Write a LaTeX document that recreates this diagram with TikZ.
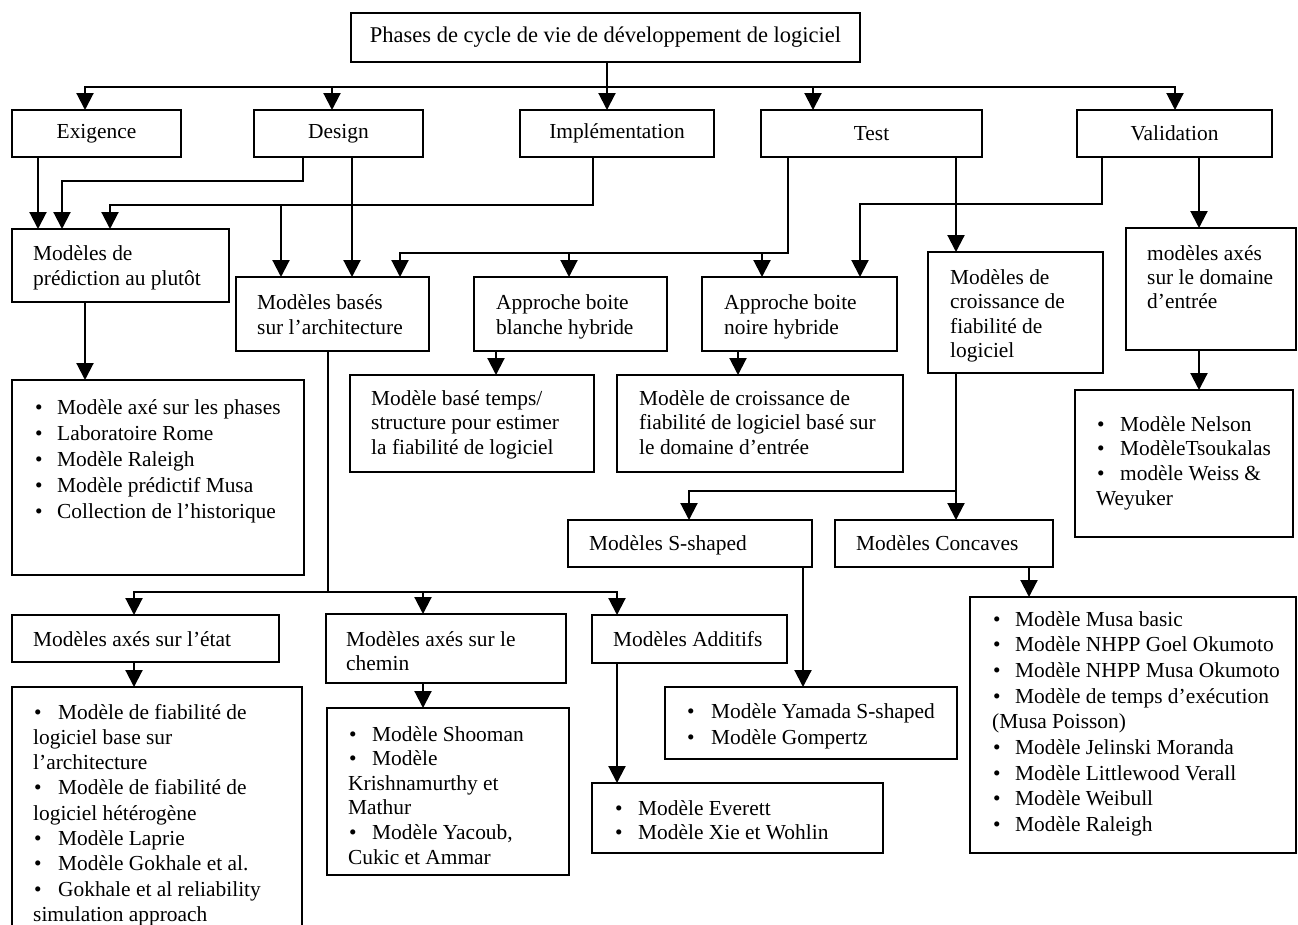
\documentclass[tikz,border=0pt]{standalone}
\usepackage{fontspec}
\setmainfont{Liberation Serif}
\usetikzlibrary{arrows.meta}

% body text size with a chosen line spacing
\newcommand\fsb[1]{\fontsize{21.4pt}{#1pt}\selectfont}
\newcommand\fstitle{\fontsize{22.5pt}{27pt}\selectfont}
% left-aligned stack of lines whose baseline is the first line
\newcommand\stack[1]{\begin{tabular}[t]{@{}l@{}}#1\end{tabular}}
% bullet followed by a fixed gap
\newcommand\bl[1]{\makebox[#1pt][l]{\hspace{1pt}\textbullet}}
% named rectangle from its top-left and bottom-right corners
\newcommand\mkbox[5]{\node[box, minimum width={(#4-#2)*1pt}, minimum height={(#5-#3)*1pt}] (#1) at (#2,#3) {};}

\tikzset{
  box/.style={draw, line width=2.9pt, anchor=north west, inner sep=0pt, outer sep=0pt},
  txt/.style={anchor=base west, inner sep=0pt},
  ctxt/.style={anchor=center, inner sep=0pt, font=\fsb{25}},
  arr/.style={line width=2.1pt, -{Triangle[width=17pt,length=17pt]}},
}

\begin{document}
\begin{tikzpicture}[x=1pt, y=-1pt]
\useasboundingbox (0,0) rectangle (1298,924);
\fill[white] (0,0) rectangle (1298,924);
\clip (0,0) rectangle (1298,924);

% ---------- boxes ----------
\mkbox{title}{351}{13}{860}{62}
\mkbox{exig}{12}{110}{181}{157}
\mkbox{design}{254}{110}{423}{157}
\mkbox{impl}{520}{110}{714}{157}
\mkbox{test}{761}{110}{982}{157}
\mkbox{valid}{1077}{110}{1272}{157}
\mkbox{pred}{12}{229}{229}{302}
\mkbox{bases}{236}{277}{429}{351}
\mkbox{blanche}{474}{277}{667}{351}
\mkbox{noire}{702}{277}{897}{351}
\mkbox{croiss}{928}{252}{1103}{373}
\mkbox{domaine}{1126}{228}{1296}{350}
\mkbox{list1}{12}{380}{304}{575}
\mkbox{temps}{350}{375}{594}{472}
\mkbox{noirelist}{617}{375}{903}{472}
\mkbox{nelson}{1075}{390}{1293}{537}
\mkbox{sshaped}{568}{520}{812}{567}
\mkbox{concaves}{835}{520}{1053}{567}
\mkbox{state}{12}{615}{279}{662}
\mkbox{chemin}{326}{614}{566}{683}
\mkbox{additifs}{592}{615}{787}{663}
\mkbox{statelist}{12}{687}{302}{960}
\mkbox{cheminlist}{327}{708}{569}{875}
\mkbox{yamada}{665}{687}{957}{759}
\mkbox{everett}{592}{783}{883}{853}
\mkbox{concavelist}{970}{597}{1296}{853}

% ---------- texts ----------
\node[anchor=center, inner sep=0pt, font=\fstitle] (t-title) at (title.center) {Phases de cycle de vie de développement de logiciel};
\node[ctxt] (t-exig) at (exig.center) {Exigence};
\node[ctxt] (t-design) at (design.center) {Design};
\node[ctxt] (t-impl) at (impl.center) {Implémentation};
\node[ctxt] (t-test) at (test.center) {Test};
\node[ctxt] (t-valid) at (valid.center) {Validation};

\node[txt, font=\fsb{25}] (t-pred) at (33,260) {\stack{Modèles de\\prédiction au plutôt}};
\node[txt, font=\fsb{25}] (t-bases) at (257,309) {\stack{Modèles basés\\sur l’architecture}};
\node[txt, font=\fsb{25}] (t-blanche) at (496,309) {\stack{Approche boite\\blanche hybride}};
\node[txt, font=\fsb{25}] (t-noire) at (724,309) {\stack{Approche boite\\noire hybride}};
\node[txt, font=\fsb{24.5}] (t-croiss) at (950,284) {\stack{Modèles de\\croissance de\\fiabilité de\\logiciel}};
\node[txt, font=\fsb{24}] (t-domaine) at (1147,260) {\stack{modèles axés\\sur le domaine\\d’entrée}};
\node[txt, font=\fsb{26}] (t-list1) at (34,414) {\stack{\bl{23}Modèle axé sur les phases\\\bl{23}Laboratoire Rome\\\bl{23}Modèle Raleigh\\\bl{23}Modèle prédictif Musa\\\bl{23}Collection de l’historique}};
\node[txt, font=\fsb{24.5}] (t-temps) at (371,405) {\stack{Modèle basé temps/\\structure pour estimer\\la fiabilité de logiciel}};
\node[txt, font=\fsb{24.5}] (t-noirelist) at (639,405) {\stack{Modèle de croissance de\\fiabilité de logiciel basé sur\\le domaine d’entrée}};
\node[txt, font=\fsb{24.8}] (t-nelson) at (1096,431) {\stack{\bl{24}Modèle Nelson\\\bl{24}ModèleTsoukalas\\\bl{24}modèle Weiss \&\\Weyuker}};
\node[txt, font=\fsb{25}] (t-sshaped) at (589,550) {Modèles S-shaped};
\node[txt, font=\fsb{25}] (t-concaves) at (856,550) {Modèles Concaves};
\node[txt, font=\fsb{25}] (t-state) at (33,646) {Modèles axés sur l’état};
\node[txt, font=\fsb{24}] (t-chemin) at (346,646) {\stack{Modèles axés sur le\\chemin}};
\node[txt, font=\fsb{25}] (t-additifs) at (613,646) {Modèles Additifs};
\node[txt, font=\fsb{25.3}] (t-statelist) at (33,719) {\stack{\bl{25}Modèle de fiabilité de\\logiciel base sur\\l’architecture\\\bl{25}Modèle de fiabilité de\\logiciel hétérogène\\\bl{25}Modèle Laprie\\\bl{25}Modèle Gokhale et al.\\\bl{25}Gokhale et al reliability\\simulation approach}};
\node[txt, font=\fsb{24.6}] (t-cheminlist) at (348,741) {\stack{\bl{24}Modèle Shooman\\\bl{24}Modèle\\Krishnamurthy et\\Mathur\\\bl{24}Modèle Yacoub,\\Cukic et Ammar}};
\node[txt, font=\fsb{26}] (t-yamada) at (686,718) {\stack{\bl{25}Modèle Yamada S-shaped\\\bl{25}Modèle Gompertz}};
\node[txt, font=\fsb{24}] (t-everett) at (614,815) {\stack{\bl{24}Modèle Everett\\\bl{24}Modèle Xie et Wohlin}};
\node[txt, font=\fsb{25.7}] (t-concavelist) at (992,626) {\stack{\bl{23}Modèle Musa basic\\\bl{23}Modèle NHPP Goel Okumoto\\\bl{23}Modèle NHPP Musa Okumoto\\\bl{23}Modèle de temps d’exécution\\(Musa Poisson)\\\bl{23}Modèle Jelinski Moranda\\\bl{23}Modèle Littlewood Verall\\\bl{23}Modèle Weibull\\\bl{23}Modèle Raleigh}};

% ---------- junctions ----------
\coordinate (hub) at (607,87);
\coordinate (jdes) at (303,181);
\coordinate (jimp) at (593,205);
\coordinate (jtest) at (788,253);
\coordinate (jval) at (1102,204);
\coordinate (jcro) at (956,491);
\coordinate (jarc) at (328,592);

% ---------- connectors ----------
\draw[arr] (title.south -| hub) -- (impl.north -| hub);
\draw[arr] (hub) -| (exig.north -| 85,0);
\draw[arr] (hub) -| (design.north -| 332,0);
\draw[arr] (hub) -| (test.north -| 813,0);
\draw[arr] (hub) -| (valid.north -| 1175,0);

\draw[arr] (exig.south -| 38,0) -- (pred.north -| 38,0);
\draw[arr] (design.south -| jdes) -- (jdes) -| (pred.north -| 62,0);
\draw[arr] (design.south -| 352,0) -- (bases.north -| 352,0);
\draw[arr] (impl.south -| jimp) -- (jimp) -| (pred.north -| 110,0);
\draw[arr] (jimp -| 281,0) -- (bases.north -| 281,0);
\draw[arr] (test.south -| jtest) -- (jtest) -| (bases.north -| 400,0);
\draw[arr] (jtest -| 569,0) -- (blanche.north -| 569,0);
\draw[arr] (jtest -| 762,0) -- (noire.north -| 762,0);
\draw[arr] (test.south -| 956,0) -- (croiss.north -| 956,0);
\draw[arr] (valid.south -| jval) -- (jval) -| (noire.north -| 860,0);
\draw[arr] (valid.south -| 1199,0) -- (domaine.north -| 1199,0);

\draw[arr] (pred.south -| 85,0) -- (list1.north -| 85,0);
\draw[arr] (blanche.south -| 496,0) -- (temps.north -| 496,0);
\draw[arr] (noire.south -| 738,0) -- (noirelist.north -| 738,0);
\draw[arr] (domaine.south -| 1199,0) -- (nelson.north -| 1199,0);

\draw[arr] (croiss.south -| jcro) -- (jcro) -| (sshaped.north -| 689,0);
\draw[arr] (jcro) -- (concaves.north -| jcro);
\draw[arr] (sshaped.south -| 803,0) -- (yamada.north -| 803,0);
\draw[arr] (concaves.south -| 1029,0) -- (concavelist.north -| 1029,0);

\draw[arr] (bases.south -| jarc) -- (jarc) -| (state.north -| 134,0);
\draw[arr] (jarc) -| (chemin.north -| 423,0);
\draw[arr] (jarc) -| (additifs.north -| 617,0);
\draw[arr] (state.south -| 134,0) -- (statelist.north -| 134,0);
\draw[arr] (chemin.south -| 423,0) -- (cheminlist.north -| 423,0);
\draw[arr] (additifs.south -| 617,0) -- (everett.north -| 617,0);
\end{tikzpicture}
\end{document}
